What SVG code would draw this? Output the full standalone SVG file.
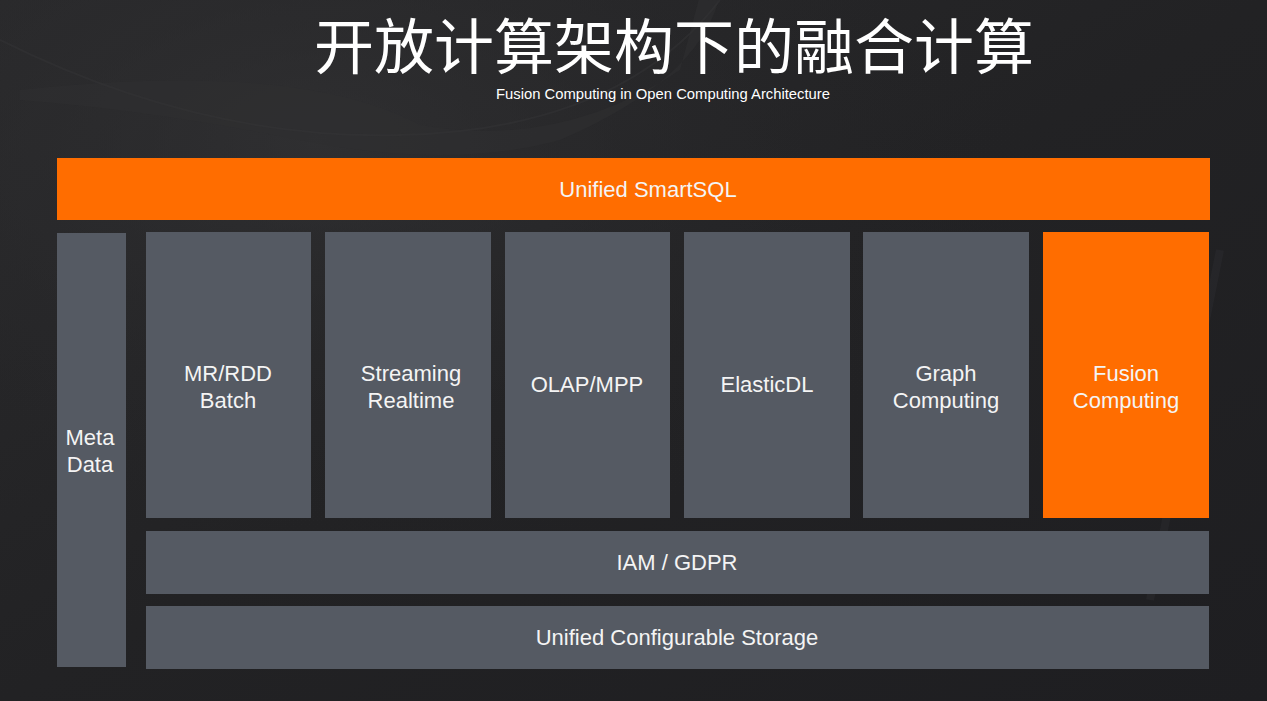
<svg xmlns="http://www.w3.org/2000/svg" width="1267" height="701" viewBox="0 0 1267 701">
<defs>
<linearGradient id="bg" x1="0" y1="0" x2="1" y2="1">
<stop offset="0" stop-color="#2a2a2c"/>
<stop offset="0.5" stop-color="#222224"/>
<stop offset="1" stop-color="#1e1e21"/>
</linearGradient>
<radialGradient id="glow" cx="0.25" cy="0.2" r="0.6">
<stop offset="0" stop-color="#333335" stop-opacity="0.7"/>
<stop offset="1" stop-color="#222224" stop-opacity="0"/>
</radialGradient>
</defs>
<style>
.orange{fill:#ff6d00}
.gray{fill:#555a63}
.lbl{font-family:"Liberation Sans","Noto Sans",Arial,sans-serif;font-size:22px;fill:#f4f4f4;text-anchor:middle}
.title{font-family:"Noto Sans CJK SC","Noto Sans",sans-serif;font-size:60px;fill:#ffffff;text-anchor:middle}
.sub{font-family:"Liberation Sans","Noto Sans",Arial,sans-serif;font-size:14.8px;fill:#ffffff;text-anchor:middle}
</style>
<g id="background">
<rect width="1267" height="701" fill="url(#bg)"/>
<rect width="1267" height="701" fill="url(#glow)"/>
<path d="M20,90 Q300,60 420,125 Q560,150 680,70 L700,-5 L720,-5 Q700,80 560,140 Q450,170 300,140 Q150,110 20,100 Z" fill="#2e2e30" opacity="0.6"/>
<path d="M0,40 Q200,140 400,135 Q620,130 720,0" fill="none" stroke="#333335" stroke-width="2" opacity="0.5"/>
<path d="M1220,250 L1150,600" fill="none" stroke="#2a2a2d" stroke-width="8" opacity="0.6"/>
</g>
<g id="title">
<text class="title" x="674" y="69">开放计算架构下的融合计算</text>
<text class="sub" x="663" y="99">Fusion Computing in Open Computing Architecture</text>
</g>
<g id="smartsql"><rect class="orange" x="57" y="158" width="1153" height="62"/><text class="lbl" x="648" y="197">Unified SmartSQL</text></g>
<g id="metadata"><rect class="gray" x="57" y="233" width="69" height="434"/><text class="lbl" x="90" y="445">Meta</text><text class="lbl" x="90" y="472">Data</text></g>
<g id="mr-batch"><rect class="gray" x="146" y="232" width="165" height="286"/><text class="lbl" x="228" y="381">MR/RDD</text><text class="lbl" x="228" y="408">Batch</text></g>
<g id="streaming"><rect class="gray" x="325" y="232" width="166" height="286"/><text class="lbl" x="411" y="381">Streaming</text><text class="lbl" x="411" y="408">Realtime</text></g>
<g id="olap"><rect class="gray" x="505" y="232" width="165" height="286"/><text class="lbl" x="587" y="392">OLAP/MPP</text></g>
<g id="elasticdl"><rect class="gray" x="684" y="232" width="166" height="286"/><text class="lbl" x="767" y="392">ElasticDL</text></g>
<g id="graph"><rect class="gray" x="863" y="232" width="166" height="286"/><text class="lbl" x="946" y="381">Graph</text><text class="lbl" x="946" y="408">Computing</text></g>
<g id="fusion"><rect class="orange" x="1043" y="232" width="166" height="286"/><text class="lbl" x="1126" y="381">Fusion</text><text class="lbl" x="1126" y="408">Computing</text></g>
<g id="iam"><rect class="gray" x="146" y="531" width="1063" height="63"/><text class="lbl" x="677" y="570">IAM / GDPR</text></g>
<g id="storage"><rect class="gray" x="146" y="606" width="1063" height="63"/><text class="lbl" x="677" y="645">Unified Configurable Storage</text></g>
<g id="connectors"/>
</svg>
